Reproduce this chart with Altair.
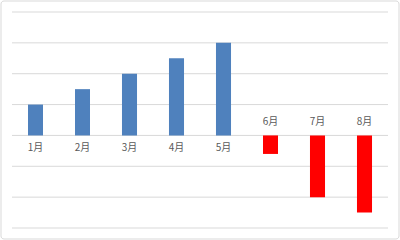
import altair as alt
import pandas as pd

months = ["1月", "2月", "3月", "4月", "5月", "6月", "7月", "8月"]
values = [10, 15, 20, 25, 30, -6, -20, -25]
grid_values = [-30, -20, -10, 0, 10, 20, 30, 40]

df = pd.DataFrame({"month": months, "value": values})
df["sign"] = ["pos" if v >= 0 else "neg" for v in values]
df["zero"] = 0

W, H = 376, 216

xenc = alt.X("month:N", sort=months,
             scale=alt.Scale(paddingInner=0.68, paddingOuter=0.34),
             axis=None)
yscale = alt.Scale(domain=[-30, 40], nice=False, zero=False)

border = alt.Chart(pd.DataFrame({"a": [0]})).mark_rect(
    fill="white", stroke="#d9d9d9", strokeWidth=1, cornerRadius=3
).encode(x=alt.value(-11), x2=alt.value(W + 11), y=alt.value(-11), y2=alt.value(H + 11))

grid = alt.Chart(pd.DataFrame({"g": grid_values})).mark_rule(
    color="#d9d9d9", strokeWidth=1
).encode(y=alt.Y("g:Q", scale=yscale, axis=None))

bars = alt.Chart(df).mark_bar().encode(
    x=xenc,
    y=alt.Y("value:Q", scale=yscale, axis=None),
    y2=alt.Y2("zero:Q"),
    color=alt.Color("sign:N", scale=alt.Scale(domain=["pos", "neg"], range=["#4f81bd", "#ff0000"]), legend=None),
)

text_common = dict(font="Noto Sans CJK JP", fontSize=10, color="#595959", baseline="middle")
lab_pos = alt.Chart(df).transform_filter("datum.value >= 0").mark_text(dy=13, **text_common).encode(
    x=xenc, y=alt.Y("zero:Q", scale=yscale, axis=None), text="month:N")
lab_neg = alt.Chart(df).transform_filter("datum.value < 0").mark_text(dy=-13, **text_common).encode(
    x=xenc, y=alt.Y("zero:Q", scale=yscale, axis=None), text="month:N")

chart = alt.layer(border, grid, bars, lab_pos, lab_neg).properties(
    width=W, height=H,
    padding={"left": 12, "top": 12, "right": 12, "bottom": 12},
    autosize=alt.AutoSizeParams(type="none"),
    background="white",
).configure_view(stroke=None)

chart.save("out.html", embed_options={"renderer": "svg", "actions": False})
